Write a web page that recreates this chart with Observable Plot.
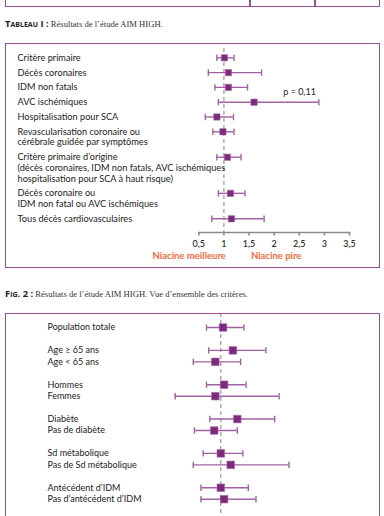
<!DOCTYPE html>
<html><head><meta charset="utf-8">
<script src="https://cdn.jsdelivr.net/npm/d3@7"></script>
<script src="https://cdn.jsdelivr.net/npm/@observablehq/plot@0.6"></script>
<style>
html,body{margin:0;padding:0;background:#fff;}
body{width:384px;height:516px;overflow:hidden;position:relative;font-family:Lato,sans-serif;}
.box{position:absolute;border:1.6px solid #9a4c95;box-sizing:border-box;pointer-events:none;}
.vl{position:absolute;width:1.6px;background:#9a4c95;}
.cap{position:absolute;left:5px;font-size:8.6px;color:#333;white-space:nowrap;line-height:10px;}
.cap b{font-family:"Open Sans",sans-serif;font-weight:700;font-variant:small-caps;font-size:9.4px;color:#222;}
.cap span{font-family:"Liberation Serif",serif;}
.chart{position:absolute;left:0;}
</style></head><body>
<div class="box" style="left:5px;top:-12px;width:375px;height:19px"></div>
<div class="vl" style="left:249px;top:0;height:6px"></div>
<div class="vl" style="left:314px;top:0;height:6px"></div>
<div class="cap" style="top:19px"><b>Tableau I :</b> <span>Résultats de l’étude AIM HIGH.</span></div>
<div id="c1" class="chart" style="top:43px"></div>
<div class="box" style="left:5px;top:43px;width:375px;height:225px"></div>
<div class="cap" style="top:289px"><b>Fig. 2 :</b> <span>Résultats de l’étude AIM HIGH. Vue d’ensemble des critères.</span></div>
<div id="c2" class="chart" style="top:313px"></div>
<div class="box" style="left:5px;top:313px;width:375px;height:230px"></div>
<script>
// ---------- Figure 2 data (overall criteria) ----------
const LABELS1 = [
  "Critère primaire",
  "Décès coronaires",
  "IDM non fatals",
  "AVC ischémiques",
  "Hospitalisation pour SCA",
  "Revascularisation coronaire ou\ncérébrale guidée par symptômes",
  "Critère primaire d’origine\n(décès coronaires, IDM non fatals, AVC ischémiques\nhospitalisation pour SCA à haut risque)",
  "Décès coronaire ou\nIDM non fatal ou AVC ischémiques",
  "Tous décès cardiovasculaires"
];
const HR1 = [1.01, 1.09, 1.09, 1.60, 0.86, 0.98, 1.07, 1.13, 1.15];
const LO1 = [0.86, 0.69, 0.82, 0.89, 0.63, 0.78, 0.86, 0.89, 0.76];
const HI1 = [1.20, 1.75, 1.47, 2.89, 1.19, 1.20, 1.34, 1.42, 1.80];
const NOTES1 = ["", "", "", "p = 0,11", "", "", "", "", ""];
const TICKS1 = [0.5, 1, 1.5, 2, 2.5, 3, 3.5];
const TICK_LABELS1 = ["0,5", "1", "1,5", "2", "2,5", "3", "3,5"];
const SIDE_LABELS = ["Niacine meilleure", "Niacine pire"];

// ---------- Subgroup data ----------
const LABELS2 = ["Population totale", "Age ≥ 65 ans", "Age < 65 ans", "Hommes", "Femmes",
  "Diabète", "Pas de diabète", "Sd métabolique", "Pas de Sd métabolique",
  "Antécédent d’IDM", "Pas d’antécédent d’IDM"];
const GROUP2 = [0, 1, 1, 2, 2, 3, 3, 4, 4, 5, 5];
const HR2 = [1.02, 1.11, 0.95, 1.03, 0.95, 1.15, 0.94, 1.00, 1.09, 1.00, 1.03];
const LO2 = [0.87, 0.89, 0.75, 0.87, 0.585, 0.90, 0.76, 0.84, 0.75, 0.82, 0.82];
const HI2 = [1.21, 1.41, 1.18, 1.23, 1.53, 1.49, 1.15, 1.20, 1.62, 1.25, 1.32];

// ---------- styles ----------
const PURPLE = "#7d2a7d";
const CI = "#a261a0";
const TXT = "#222";
const FONT = "Lato, sans-serif";
const cap = {draw(ctx, size) { const h = Math.sqrt(size / Math.PI); ctx.moveTo(0, -h); ctx.lineTo(0, h); }};

// layout of rows for chart 1: one unit per row, extra lines add a fraction
const LINE = 0.72;
let u = 0;
const rows1 = LABELS1.map((label, i) => {
  const lines = label.split("\n");
  const r = {label, lines, hr: HR1[i], lo: LO1[i], hi: HI1[i], note: NOTES1[i], y: u};
  u += 1 + (lines.length - 1) * LINE;
  return r;
});
const last1 = rows1[rows1.length - 1].y;
const lines1 = rows1.flatMap(r => r.lines.map((t, k) => ({text: t, y: r.y + k * LINE})));

const W = 384, H1 = 225;
const mL1 = 198.3, mR1 = 35;
const chart1 = Plot.plot({
  width: W, height: H1,
  marginLeft: mL1, marginRight: mR1, marginTop: 5, marginBottom: 36,
  style: {fontFamily: FONT, background: "transparent", overflow: "visible"},
  x: {type: "linear", domain: [0.5, 3.5], axis: null},
  y: {type: "linear", domain: [0, last1], range: [14.3, 175.3], axis: null},
  marks: [
    Plot.ruleX([1], {stroke: "#9a9a9a", strokeWidth: 1.2, strokeDasharray: "4,3"}),
    Plot.frame({anchor: "bottom", stroke: "#8a8a8a", strokeWidth: 1.6}),
    Plot.axisX(TICKS1, {tickSize: 3.5, tickPadding: 5, stroke: "#8a8a8a", strokeWidth: 1.6,
      tickFormat: (d) => TICK_LABELS1[TICKS1.indexOf(d)], fontSize: 9, fontWeight: 600, fill: "#333"}),
    Plot.text(lines1, {y: "y", text: "text", frameAnchor: "left", textAnchor: "start", dx: 17 - mL1, fontSize: 9.2, fill: TXT}),
    Plot.ruleY(rows1, {y: "y", x1: "lo", x2: "hi", stroke: CI, strokeWidth: 1.4}),
    Plot.dot(rows1, {x: "lo", y: "y", symbol: cap, r: 3.2, fill: "none", stroke: CI, strokeWidth: 1.4}),
    Plot.dot(rows1, {x: "hi", y: "y", symbol: cap, r: 3.2, fill: "none", stroke: CI, strokeWidth: 1.4}),
    Plot.dot(rows1, {x: "hr", y: "y", symbol: "square", r: 3.6, fill: PURPLE, stroke: "#a872a8", strokeWidth: 0.6}),
    Plot.text(rows1.filter(r => r.note), {x: "hi", y: "y", text: "note", textAnchor: "end", dx: -3, dy: -10, fontSize: 9, fill: TXT}),
    Plot.text([SIDE_LABELS[0]], {x: () => 1, frameAnchor: "bottom", text: d => d, textAnchor: "end", dx: 2, dy: 26, fontSize: 9.5, fontWeight: 700, fill: "#f26b3a"}),
    Plot.text([SIDE_LABELS[1]], {x: () => 1, frameAnchor: "bottom", text: d => d, textAnchor: "start", dx: 27, dy: 26, fontSize: 9.5, fontWeight: 700, fill: "#f26b3a"})
  ]
});
document.getElementById("c1").appendChild(chart1);

// chart 2: groups separated by a blank slot
let s = 0;
const rows2 = LABELS2.map((label, i) => {
  if (i > 0 && GROUP2[i] !== GROUP2[i - 1]) s += 1; // blank slot between groups
  const r = {label, hr: HR2[i], lo: LO2[i], hi: HI2[i], y: s};
  s += 1;
  return r;
});
const last2 = rows2[rows2.length - 1].y;
const H2 = 203, mL2 = 165.3, mR2 = 53.7;
const chart2 = Plot.plot({
  width: W, height: H2,
  marginLeft: mL2, marginRight: mR2, marginTop: 0, marginBottom: 0,
  style: {fontFamily: FONT, background: "transparent", overflow: "visible"},
  x: {type: "linear", domain: [0.5, 2], axis: null},
  y: {type: "linear", domain: [0, last2], range: [14, 185.7], axis: null},
  marks: [
    Plot.ruleX([1], {stroke: "#9a9a9a", strokeWidth: 1.2, strokeDasharray: "4,3"}),
    Plot.text(rows2, {y: "y", text: "label", frameAnchor: "left", textAnchor: "start", dx: 47 - mL2, fontSize: 9, fill: TXT}),
    Plot.ruleY(rows2, {y: "y", x1: "lo", x2: "hi", stroke: CI, strokeWidth: 1.4}),
    Plot.dot(rows2, {x: "lo", y: "y", symbol: cap, r: 3.2, fill: "none", stroke: CI, strokeWidth: 1.4}),
    Plot.dot(rows2, {x: "hi", y: "y", symbol: cap, r: 3.2, fill: "none", stroke: CI, strokeWidth: 1.4}),
    Plot.dot(rows2, {x: "hr", y: "y", symbol: "square", r: 4.3, fill: PURPLE, stroke: "#a872a8", strokeWidth: 0.6})
  ]
});
document.getElementById("c2").appendChild(chart2);
</script>
</body></html>
